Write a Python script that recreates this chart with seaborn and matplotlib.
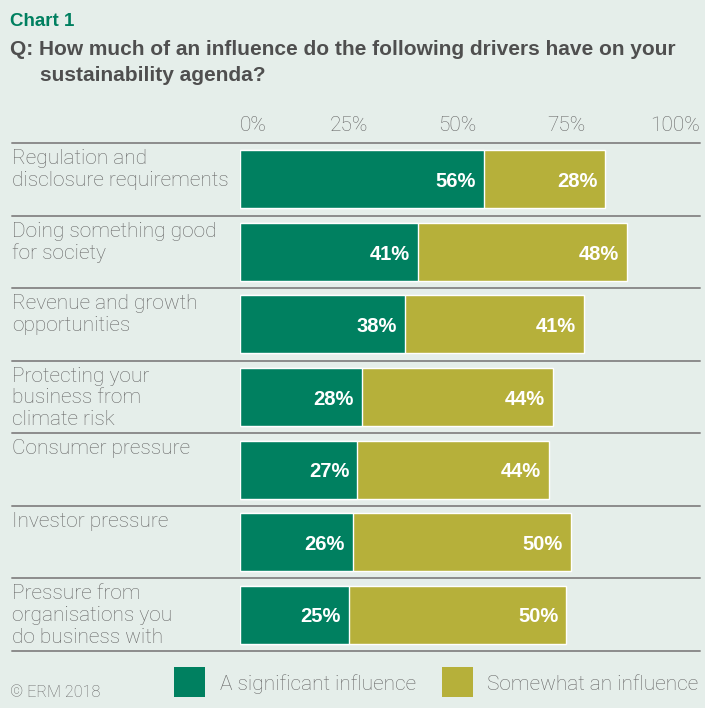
import matplotlib
matplotlib.use("Agg")
import matplotlib.pyplot as plt
import seaborn as sns
import pandas as pd
from matplotlib.patches import Rectangle
from matplotlib.transforms import offset_copy

categories = [
    "Regulation and\ndisclosure requirements",
    "Doing something good\nfor society",
    "Revenue and growth\nopportunities",
    "Protecting your\nbusiness from\nclimate risk",
    "Consumer pressure",
    "Investor pressure",
    "Pressure from\norganisations you\ndo business with",
]
significant = [56, 41, 38, 28, 27, 26, 25]
somewhat = [28, 48, 41, 44, 44, 50, 50]
tick_values = [0, 25, 50, 75, 100]
tick_labels = ["0%", "25%", "50%", "75%", "100%"]
series_names = ["A significant influence", "Somewhat an influence"]

GREEN = "#008060"
OLIVE = "#b6b03a"
BG = "#e5eeea"
GRAY = "#666666"
DARK = "#4f4f4f"

sns.set_theme(style="white")
light = ["Roboto", "DejaVu Sans"]
boldf = ["Liberation Sans", "DejaVu Sans"]
plt.rcParams["font.family"] = light

df = pd.DataFrame({"category": categories, "significant": significant, "somewhat": somewhat})
df["total"] = df["significant"] + df["somewhat"]

fig = plt.figure(figsize=(7.05, 7.08), dpi=100, facecolor=BG)
W, H = 705, 708
ax = fig.add_axes([240 / W, 1 - 651 / H, 435 / W, (651 - 143) / H])
ax.set_facecolor(BG)

sns.barplot(data=df, x="total", y="category", color=OLIVE, width=0.8, ax=ax, saturation=1, orient="h")
sns.barplot(data=df, x="significant", y="category", color=GREEN, width=0.8, ax=ax, saturation=1, orient="h")

ax.set_xlim(0, 100)
ax.set_ylim(6.5, -0.5)
for s in ax.spines.values():
    s.set_visible(False)
ax.set_xlabel("")
ax.set_ylabel("")
ax.set_yticks([])
ax.set_xticks([])

# separators
for k in range(len(categories) + 1):
    ax.axhline(k - 0.5, xmin=(12 - 240) / 435, xmax=(700 - 240) / 435, color="#8c8c8c", lw=1.4, clip_on=False)

# tick labels on top
tick_tr = offset_copy(ax.transData, fig=fig, y=12, units="dots")
for v, lab in zip(tick_values, tick_labels):
    ax.text(v, -0.5, lab, transform=tick_tr, ha="left" if v == 0 else "center", va="baseline",
            fontsize=15, color=GRAY, fontweight="light", clip_on=False)

# category labels
for i, c in enumerate(categories):
    ax.annotate(c, xy=(0, i - 0.5), xycoords=("figure fraction", "data"), xytext=(12, -6),
                textcoords="offset pixels", ha="left", va="top", fontsize=15, color=GRAY,
                fontweight="light", linespacing=1.17, annotation_clip=False)

# value labels
for i, (a, b) in enumerate(zip(significant, somewhat)):
    ax.annotate(f"{a}%", xy=(a, i + 0.03), xytext=(-8, 0), textcoords="offset pixels", ha="right",
                va="center", fontsize=14.5, color="white", fontweight="bold", family=boldf)
    ax.annotate(f"{b}%", xy=(a + b, i + 0.03), xytext=(-8, 0), textcoords="offset pixels", ha="right",
                va="center", fontsize=14.5, color="white", fontweight="bold", family=boldf)

# titles
fig.text(10 / W, 1 - 26 / H, "Chart 1", ha="left", va="baseline", fontsize=13.5, color=GREEN,
         fontweight="bold", family=boldf)
fig.text(10 / W, 1 - 55 / H, "Q: How much of an influence do the following drivers have on your",
         ha="left", va="baseline", fontsize=15, color=DARK, fontweight="bold", family=boldf)
fig.text(40 / W, 1 - 81 / H, "sustainability agenda?", ha="left", va="baseline", fontsize=15,
         color=DARK, fontweight="bold", family=boldf)

# legend
fig.patches.append(Rectangle((174 / W, 1 - 697 / H), 31 / W, 30 / H, transform=fig.transFigure,
                             facecolor=GREEN, edgecolor="none"))
fig.patches.append(Rectangle((442 / W, 1 - 697 / H), 31 / W, 30 / H, transform=fig.transFigure,
                             facecolor=OLIVE, edgecolor="none"))
fig.text(220 / W, 1 - 690 / H, series_names[0], ha="left", va="baseline", fontsize=15, color=GRAY,
         fontweight="light")
fig.text(487 / W, 1 - 690 / H, series_names[1], ha="left", va="baseline", fontsize=15, color=GRAY,
         fontweight="light")
fig.text(10 / W, 1 - 697 / H, "© ERM 2018", ha="left", va="baseline", fontsize=11.7, color=GRAY,
         fontweight="light")

fig.savefig("out.png", dpi=100, facecolor=BG)
